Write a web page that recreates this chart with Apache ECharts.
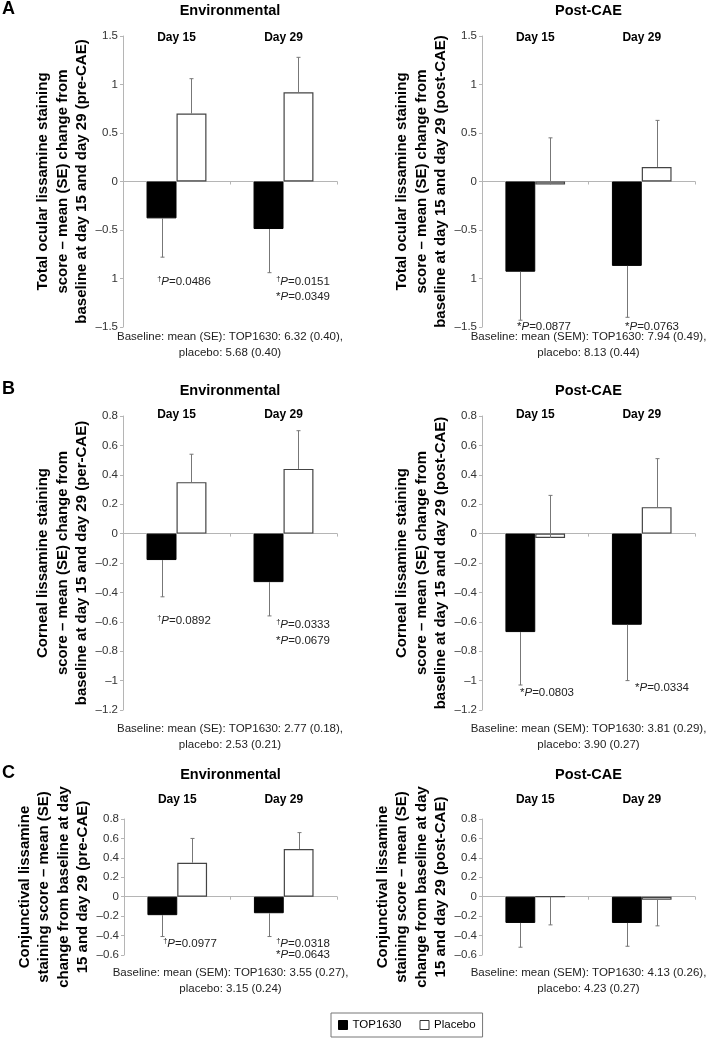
<!DOCTYPE html>
<html>
<head>
<meta charset="utf-8">
<script src="https://cdn.jsdelivr.net/npm/echarts@6/dist/echarts.min.js"></script>
<style>
  html, body { margin: 0; padding: 0; background: #fff; }
  #main { width: 707px; height: 1038px; }
</style>
</head>
<body>
<div id="main"></div>
<script>
const days = ['Day 15', 'Day 29'];

// A - total ocular lissamine staining
const aEnvTop = [-0.38, -0.49];
const aEnvTopErr = [-0.78, -0.94];
const aEnvPla = [0.70, 0.92];
const aEnvPlaErr = [1.06, 1.28];
const aPostTop = [-0.93, -0.87];
const aPostTopErr = [-1.43, -1.40];
const aPostPla = [-0.03, 0.15];
const aPostPlaErr = [0.45, 0.63];

// B - corneal
const bEnvTop = [-0.18, -0.33];
const bEnvTopErr = [-0.43, -0.56];
const bEnvPla = [0.35, 0.44];
const bEnvPlaErr = [0.54, 0.70];
const bPostTop = [-0.67, -0.62];
const bPostTopErr = [-1.03, -1.00];
const bPostPla = [-0.03, 0.18];
const bPostPlaErr = [0.26, 0.51];

// C - conjunctival
const cEnvTop = [-0.19, -0.17];
const cEnvTopErr = [-0.41, -0.41];
const cEnvPla = [0.35, 0.49];
const cEnvPlaErr = [0.60, 0.66];
const cPostTop = [-0.27, -0.27];
const cPostTopErr = [-0.52, -0.51];
const cPostPla = [0, -0.03];
const cPostPlaErr = [-0.29, -0.30];

// p-value notes under each day
const aEnvP = [['†P=0.0486'], ['†P=0.0151', '*P=0.0349']];
const aPostP = [['*P=0.0877'], ['*P=0.0763']];
const bEnvP = [['†P=0.0892'], ['†P=0.0333', '*P=0.0679']];
const bPostP = [['*P=0.0803'], ['*P=0.0334']];
const cEnvP = [['†P=0.0977'], ['†P=0.0318', '*P=0.0643']];
const cPostP = [[], []];

const aEnvBase = ['Baseline: mean (SE): TOP1630: 6.32 (0.40),', 'placebo: 5.68 (0.40)'];
const aPostBase = ['Baseline: mean (SEM): TOP1630: 7.94 (0.49),', 'placebo: 8.13 (0.44)'];
const bEnvBase = ['Baseline: mean (SE): TOP1630: 2.77 (0.18),', 'placebo: 2.53 (0.21)'];
const bPostBase = ['Baseline: mean (SEM): TOP1630: 3.81 (0.29),', 'placebo: 3.90 (0.27)'];
const cEnvBase = ['Baseline: mean (SEM): TOP1630: 3.55 (0.27),', 'placebo: 3.15 (0.24)'];
const cPostBase = ['Baseline: mean (SEM): TOP1630: 4.13 (0.26),', 'placebo: 4.23 (0.27)'];

const FONT = '"Liberation Sans", Arial, sans-serif';
const BAR_FRAC = 0.28;

const panels = [
  { letter: 'A', title: 'Environmental', top: aEnvTop, topErr: aEnvTopErr, pla: aEnvPla, plaErr: aEnvPlaErr,
    notes: aEnvP, base: aEnvBase, min: -1.5, max: 1.5, step: 0.5, noMinusOne: true,
    name: 'Total ocular lissamine staining\nscore – mean (SE) change from\nbaseline at day 15 and day 29 (pre-CAE)',
    grid: { left: 123, top: 36, width: 214, height: 291 }, dayMargin: -8,
    titleY: 11, baseY: 337, notePos: [[184, 282], [303, 282]], noteStep: 15 },
  { title: 'Post-CAE', top: aPostTop, topErr: aPostTopErr, pla: aPostPla, plaErr: aPostPlaErr,
    notes: aPostP, base: aPostBase, min: -1.5, max: 1.5, step: 0.5, noMinusOne: true,
    name: 'Total ocular lissamine staining\nscore – mean (SE) change from\nbaseline at day 15 and day 29 (post-CAE)',
    grid: { left: 482, top: 36, width: 213, height: 291 }, dayMargin: -8,
    titleY: 11, baseY: 337, notePos: [[544, 327], [652, 327]], noteStep: 15 },
  { letter: 'B', title: 'Environmental', top: bEnvTop, topErr: bEnvTopErr, pla: bEnvPla, plaErr: bEnvPlaErr,
    notes: bEnvP, base: bEnvBase, min: -1.2, max: 0.8, step: 0.2,
    name: 'Corneal lissamine staining\nscore – mean (SE) change from\nbaseline at day 15 and day 29 (per-CAE)',
    grid: { left: 123, top: 416, width: 214, height: 294 }, dayMargin: -5,
    titleY: 391, baseY: 729, notePos: [[184, 621], [303, 625]], noteStep: 15.5 },
  { title: 'Post-CAE', top: bPostTop, topErr: bPostTopErr, pla: bPostPla, plaErr: bPostPlaErr,
    notes: bPostP, base: bPostBase, min: -1.2, max: 0.8, step: 0.2,
    name: 'Corneal lissamine staining\nscore – mean (SE) change from\nbaseline at day 15 and day 29 (post-CAE)',
    grid: { left: 482, top: 416, width: 213, height: 294 }, dayMargin: -5,
    titleY: 391, baseY: 729, notePos: [[547, 693], [662, 688]], noteStep: 15 },
  { letter: 'C', title: 'Environmental', top: cEnvTop, topErr: cEnvTopErr, pla: cEnvPla, plaErr: cEnvPlaErr,
    notes: cEnvP, base: cEnvBase, min: -0.6, max: 0.8, step: 0.2,
    name: 'Conjunctival lissamine\nstaining score – mean (SE)\nchange from baseline at day\n15 and day 29 (pre-CAE)',
    grid: { left: 124, top: 819, width: 213, height: 136 }, dayMargin: 13,
    titleY: 775, baseY: 973, notePos: [[190, 944], [303, 944]], noteStep: 10.5 },
  { title: 'Post-CAE', top: cPostTop, topErr: cPostTopErr, pla: cPostPla, plaErr: cPostPlaErr,
    notes: cPostP, base: cPostBase, min: -0.6, max: 0.8, step: 0.2,
    name: 'Conjunctival lissamine\nstaining score – mean (SE)\nchange from baseline at day\n15 and day 29 (post-CAE)',
    grid: { left: 482, top: 819, width: 213, height: 136 }, dayMargin: 13,
    titleY: 775, baseY: 973, notePos: [], noteStep: 15 }
];

function tickText(v, noMinusOne) {
  if (noMinusOne && Math.abs(v + 1) < 1e-9) return '1';
  const s = String(+v.toFixed(2));
  return s.replace('-', '–');
}

function renderErr(params, api) {
  const cat = api.value(0);
  const val = api.value(1);
  const end = api.value(2);
  const slot = api.value(3);
  const band = api.size([1, 0])[0];
  const off = (slot === 0 ? -1 : 1) * band * BAR_FRAC / 2;
  const p0 = api.coord([cat, val]);
  const p1 = api.coord([cat, end]);
  const x = Math.round(p0[0] + off) + 0.5;
  return {
    type: 'group',
    children: [
      { type: 'line', shape: { x1: x, y1: p0[1], x2: x, y2: p1[1] }, style: { stroke: '#777', lineWidth: 1 } },
      { type: 'line', shape: { x1: x - 2, y1: p1[1], x2: x + 2, y2: p1[1] }, style: { stroke: '#777', lineWidth: 1 } }
    ]
  };
}

const grids = [], xAxes = [], yAxes = [], series = [], graphics = [];

panels.forEach((p, i) => {
  grids.push(Object.assign({ containLabel: false }, p.grid));
  xAxes.push({
    type: 'category', gridIndex: i, data: days, position: 'bottom',
    axisLine: { onZero: true, lineStyle: { color: '#b5b5b5', width: 1 } },
    axisTick: { show: true, length: 3, lineStyle: { color: '#b5b5b5' } },
    axisLabel: { show: false }, splitLine: { show: false }
  });
  xAxes.push({
    type: 'category', gridIndex: i, data: days, position: 'top',
    axisLine: { show: false, onZero: false }, axisTick: { show: false },
    axisLabel: { show: true, margin: p.dayMargin, fontFamily: FONT, fontWeight: 'bold', fontSize: 12, color: '#000' }
  });
  yAxes.push({
    type: 'value', gridIndex: i, min: p.min, max: p.max, interval: p.step,
    axisLine: { show: true, lineStyle: { color: '#b5b5b5' } },
    axisTick: { show: true, length: 3, lineStyle: { color: '#b5b5b5' } },
    splitLine: { show: false },
    axisLabel: { margin: 5, fontFamily: FONT, fontSize: 11.5, color: '#333',
      formatter: v => tickText(v, p.noMinusOne) },
    name: p.name, nameLocation: 'middle', nameRotate: 90, nameGap: 31,
    nameTextStyle: { fontFamily: FONT, fontWeight: 'bold', fontSize: 15, lineHeight: 19.5, color: '#000', align: 'center' }
  });
  series.push({
    name: 'TOP1630', type: 'bar', xAxisIndex: 2 * i, yAxisIndex: i, data: p.top,
    barWidth: (BAR_FRAC * 100) + '%', barGap: '0%',
    itemStyle: { color: '#000', borderColor: '#000', borderWidth: 1 }
  });
  series.push({
    name: 'Placebo', type: 'bar', xAxisIndex: 2 * i, yAxisIndex: i, data: p.pla,
    barWidth: (BAR_FRAC * 100) + '%', barGap: '0%',
    itemStyle: { color: '#fff', borderColor: '#444', borderWidth: 1.2 }
  });
  const errData = [];
  days.forEach((d, k) => {
    errData.push([k, p.top[k], p.topErr[k], 0]);
    errData.push([k, p.pla[k], p.plaErr[k], 1]);
  });
  series.push({
    type: 'custom', xAxisIndex: 2 * i, yAxisIndex: i, renderItem: renderErr,
    data: errData, z: 5, silent: true
  });

  const cx = p.grid.left + p.grid.width / 2;
  graphics.push({ type: 'text', style: { text: p.title, x: cx, y: p.titleY, textAlign: 'center', textVerticalAlign: 'middle',
    font: 'bold 14.5px ' + FONT, fill: '#000' } });
  if (p.letter) {
    graphics.push({ type: 'text', style: { text: p.letter, x: 2, y: p.titleY - 2, textAlign: 'left', textVerticalAlign: 'middle',
      font: 'bold 18px ' + FONT, fill: '#000' } });
  }
  p.base.forEach((t, k) => {
    graphics.push({ type: 'text', style: { text: t, x: cx, y: p.baseY + k * 15.5, textAlign: 'center', textVerticalAlign: 'middle',
      font: '11.5px ' + FONT, fill: '#222' } });
  });
  p.notePos.forEach((pos, k) => {
    p.notes[k].forEach((t, j) => {
      const rt = t.replace('†', '{d|†}').replace('P', '{i|P}');
      graphics.push({ type: 'text', style: { text: rt, x: pos[0], y: pos[1] + j * p.noteStep,
        textAlign: 'center', textVerticalAlign: 'middle', font: '11.5px ' + FONT, fill: '#222',
        rich: { d: { fontSize: 7.5, fontFamily: FONT, verticalAlign: 'top', fill: '#222', lineHeight: 14 },
                i: { fontSize: 11.5, fontFamily: FONT, fontStyle: 'italic', fill: '#222' } } } });
    });
  });
});

const chart = echarts.init(document.getElementById('main'), null, { renderer: 'canvas' });
chart.setOption({
  animation: false,
  backgroundColor: '#fff',
  textStyle: { fontFamily: FONT },
  grid: grids,
  xAxis: xAxes,
  yAxis: yAxes,
  legend: {
    data: [
      { name: 'TOP1630', itemStyle: { color: '#000', borderColor: '#000', borderWidth: 1 } },
      { name: 'Placebo', itemStyle: { color: '#fff', borderColor: '#333', borderWidth: 1 } }
    ],
    left: 331, top: 1013, icon: 'rect', itemWidth: 9, itemHeight: 9, itemGap: 18,
    padding: [6, 7, 6, 7], borderColor: '#777', borderWidth: 1,
    textStyle: { fontFamily: FONT, fontSize: 11.5, color: '#000' }, selectedMode: false
  },
  series: series,
  graphic: graphics
});
</script>
</body>
</html>
